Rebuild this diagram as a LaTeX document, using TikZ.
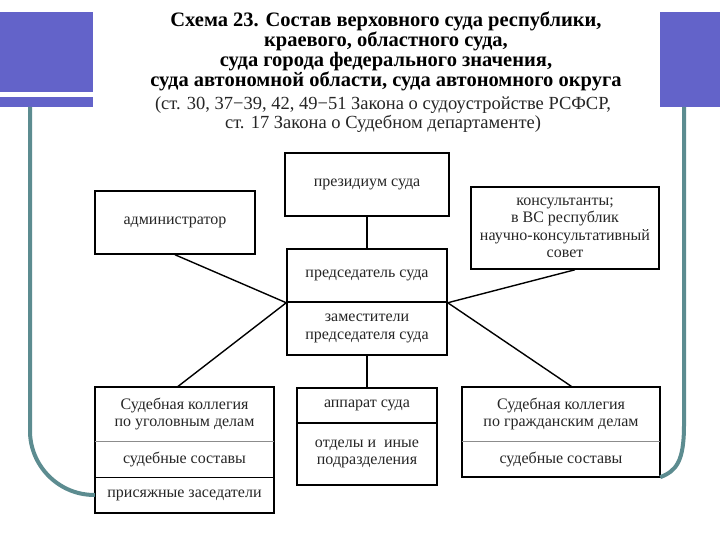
\documentclass[tikz,border=0pt]{standalone}
\usepackage{fontspec}
\setmainfont{Liberation Serif}
\definecolor{slideblue}{RGB}{99,99,201}
\definecolor{frameteal}{RGB}{92,140,144}
\newcommand{\boxfont}{\fontsize{16}{17.5}\selectfont}
\begin{document}
\begin{tikzpicture}[x=1pt, y=-1pt,
		box/.style={minimum height=#1, inner sep=0pt, align=center, font=\boxfont, text=black!85},
		link/.style={line width=1.4pt},
		border/.style={draw, line width=1.5pt},
		thin divider/.style={draw=black!45, line width=0.8pt}]
	\useasboundingbox[fill=white] (0,0) rectangle (720,540);
	
	% Синие плашки слайда
	\fill[slideblue] (0,12) rectangle (93,92);
	\fill[slideblue] (0,97) rectangle (93,107);
	\fill[slideblue] (660,12) rectangle (720,107);
	
	% Заголовок схемы
	\node[align=center, font=\fontsize{20.5}{20}\selectfont\bfseries] (title) at (386,51)
		{Схема 23. Состав верховного суда республики,\\
		 краевого, областного суда,\\
		 суда города федерального значения,\\
		 суда автономной области, суда автономного округа};
	\node[align=center, font=\fontsize{18.5}{19}\selectfont, text=black!85] (source) at (383,115)
		{(ст. 30, 37\textminus39, 42, 49\textminus51 Закона о судоустройстве РСФСР,\\
		 ст. 17 Закона о Судебном департаменте)};
	
	% Верхний уровень
	\node[box=63pt, minimum width=164pt, border] (presidium) at (367,184.5) {президиум суда};
	\node[box=63pt, minimum width=160pt, border] (admin) at (175,222.5) {администратор};
	\node[box=82pt, minimum width=188pt, border] (consult) at (565,228)
		{консультанты;\\в ВС республик\\научно-консультативный\\совет};
	
	% Председатель и заместители
	\node[box=53pt, minimum width=160pt, border] (chair) at (367,275.5) {председатель суда};
	\node[box=53pt, minimum width=160pt, border] (deputies) at (367,328.5) {заместители\\председателя суда};
	
	% Нижний уровень: коллегии и аппарат
	\node[box=54pt, minimum width=179pt] (crimcol) at (184.5,414) {Судебная коллегия\\по уголовным делам};
	\node[box=36pt, minimum width=179pt] (crimbench) at (184.5,459) {судебные составы};
	\node[box=36pt, minimum width=179pt] (jurors) at (184.5,495) {присяжные заседатели};
	\draw[border] (crimcol.north west) rectangle (jurors.south east);
	\draw[thin divider] (crimcol.south west) -- (crimcol.south east);
	\draw[link] (crimbench.south west) -- (crimbench.south east);
	
	\node[box=35pt, minimum width=140pt, border] (staff) at (367,405.5) {аппарат суда};
	\node[box=62pt, minimum width=140pt, border] (depts) at (367,454) {отделы и\enspace иные\\подразделения};
	
	\node[box=54pt, minimum width=198pt] (civcol) at (561,414) {Судебная коллегия\\по гражданским делам};
	\node[box=36pt, minimum width=198pt] (civbench) at (561,459) {судебные составы};
	\draw[border] (civcol.north west) rectangle (civbench.south east);
	\draw[thin divider] (civcol.south west) -- (civcol.south east);
	
	% Связи
	\draw[link] (presidium.south) -- (chair.north);
	\draw[link] (deputies.south) -- (staff.north);
	\draw[link] (admin.south) -- (chair.south west);
	\draw[link] ([xshift=10pt]consult.south) -- (chair.south east);
	\draw[link] (chair.south west) -- ([xshift=-7pt]crimcol.north);
	\draw[link] (chair.south east) -- ([xshift=11pt]civcol.north);
	
	% Рамка слайда
	\draw[frameteal, line width=4pt, rounded corners=62pt] (30,107) -- (30,493) -- (jurors.west);
	\draw[frameteal, line width=4pt] (684,107) -- (684,425) .. controls (684,462) and (676,471) .. (civbench.south east);
\end{tikzpicture}
\end{document}
